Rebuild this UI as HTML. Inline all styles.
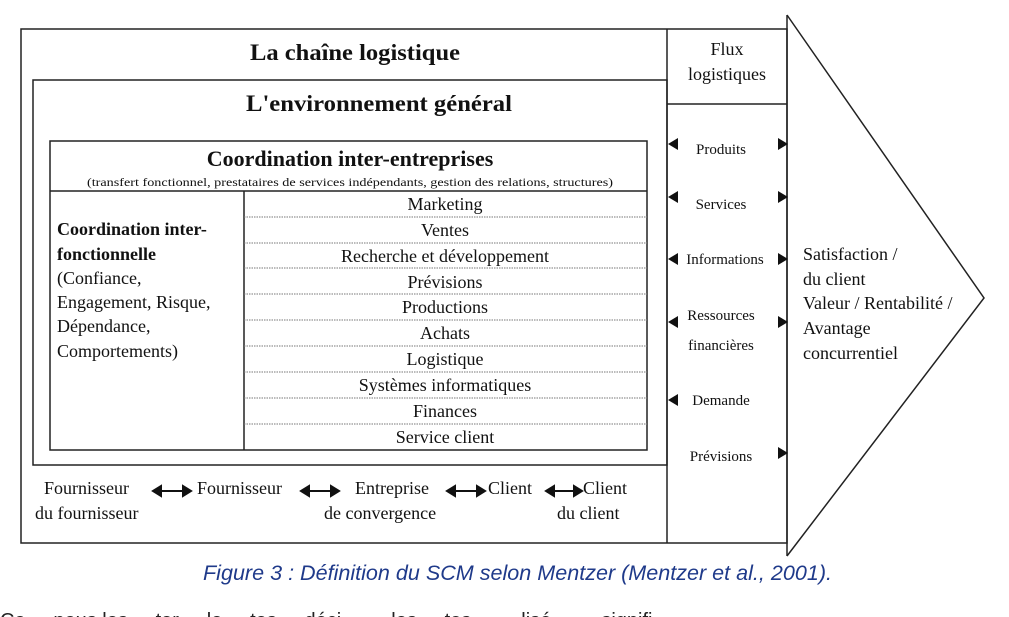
<!DOCTYPE html>
<html><head><meta charset="utf-8"><style>
html,body{margin:0;padding:0;background:#fff;}
svg{display:block;}
text{font-family:"Liberation Serif",serif;fill:#111;}
</style></head><body>
<svg width="1009" height="617" viewBox="0 0 1009 617" xmlns="http://www.w3.org/2000/svg">
<g stroke="#222" fill="none" stroke-width="1.5">
<rect x="21" y="29" width="766" height="514"/>
<rect x="33" y="80" width="634" height="385"/>
<line x1="667" y1="29" x2="667" y2="543"/>
<line x1="667" y1="104" x2="787" y2="104"/>
<line x1="787" y1="15" x2="787" y2="556"/>
<polyline points="787,15 984,298 787,556"/>
<rect x="50" y="141" width="597" height="309"/>
<line x1="50" y1="191" x2="647" y2="191"/>
<line x1="244" y1="191" x2="244" y2="450"/>
</g>
<g stroke="#777" stroke-width="1" stroke-dasharray="1.5,1">
<line x1="244" y1="217" x2="647" y2="217"/>
<line x1="244" y1="243" x2="647" y2="243"/>
<line x1="244" y1="268" x2="647" y2="268"/>
<line x1="244" y1="294" x2="647" y2="294"/>
<line x1="244" y1="320" x2="647" y2="320"/>
<line x1="244" y1="346" x2="647" y2="346"/>
<line x1="244" y1="372" x2="647" y2="372"/>
<line x1="244" y1="398" x2="647" y2="398"/>
<line x1="244" y1="424" x2="647" y2="424"/>
</g>
<text x="250" y="60" font-size="23" font-weight="bold" textLength="210" lengthAdjust="spacingAndGlyphs">La chaîne logistique</text>
<text x="246" y="111" font-size="23" font-weight="bold" textLength="266" lengthAdjust="spacingAndGlyphs">L'environnement général</text>
<text x="350" y="166" font-size="22" font-weight="bold" text-anchor="middle">Coordination inter-entreprises</text>
<text x="87" y="186" font-size="12" textLength="526" lengthAdjust="spacingAndGlyphs">(transfert fonctionnel, prestataires de services indépendants, gestion des relations, structures)</text>
<g font-size="18" text-anchor="middle">
<text x="445" y="210">Marketing</text>
<text x="445" y="236">Ventes</text>
<text x="445" y="262">Recherche et développement</text>
<text x="445" y="288">Prévisions</text>
<text x="445" y="313">Productions</text>
<text x="445" y="339">Achats</text>
<text x="445" y="365">Logistique</text>
<text x="445" y="391">Systèmes informatiques</text>
<text x="445" y="417">Finances</text>
<text x="445" y="443">Service client</text>
</g>
<g font-size="18">
<text x="57" y="235" font-weight="bold">Coordination inter-</text>
<text x="57" y="260" font-weight="bold">fonctionnelle</text>
<text x="57" y="284">(Confiance,</text>
<text x="57" y="308">Engagement, Risque,</text>
<text x="57" y="332">Dépendance,</text>
<text x="57" y="357">Comportements)</text>
</g>
<text x="727" y="55" font-size="18" text-anchor="middle">Flux</text>
<text x="727" y="80" font-size="18" text-anchor="middle">logistiques</text>
<g font-size="15" text-anchor="middle">
<text x="721" y="154">Produits</text>
<text x="721" y="209">Services</text>
<text x="725" y="264">Informations</text>
<text x="721" y="320">Ressources</text>
<text x="721" y="350">financières</text>
<text x="721" y="405">Demande</text>
<text x="721" y="461">Prévisions</text>
</g>
<g fill="#111">
<polygon points="668,144 678,138 678,150"/><polygon points="788,144 778,138 778,150"/>
<polygon points="668,197 678,191 678,203"/><polygon points="788,197 778,191 778,203"/>
<polygon points="668,259 678,253 678,265"/><polygon points="788,259 778,253 778,265"/>
<polygon points="668,322 678,316 678,328"/><polygon points="788,322 778,316 778,328"/>
<polygon points="668,400 678,394 678,406"/>
<polygon points="788,453 778,447 778,459"/>
</g>
<g font-size="18">
<text x="803" y="260">Satisfaction /</text>
<text x="803" y="285">du client</text>
<text x="803" y="309">Valeur / Rentabilité /</text>
<text x="803" y="334">Avantage</text>
<text x="803" y="359">concurrentiel</text>
</g>
<g font-size="18">
<text x="44" y="494">Fournisseur</text>
<text x="35" y="519">du fournisseur</text>
<text x="197" y="494">Fournisseur</text>
<text x="355" y="494">Entreprise</text>
<text x="324" y="519">de convergence</text>
<text x="488" y="494">Client</text>
<text x="583" y="494">Client</text>
<text x="557" y="519">du client</text>
</g>
<g fill="#111" stroke="#111" stroke-width="2">
<line x1="160" y1="491" x2="184" y2="491"/><polygon points="153,491 161,486 161,496"/><polygon points="191,491 183,486 183,496"/>
<line x1="308" y1="491" x2="332" y2="491"/><polygon points="301,491 309,486 309,496"/><polygon points="339,491 331,486 331,496"/>
<line x1="454" y1="491" x2="478" y2="491"/><polygon points="447,491 455,486 455,496"/><polygon points="485,491 477,486 477,496"/>
<line x1="553" y1="491" x2="575" y2="491"/><polygon points="546,491 554,486 554,496"/><polygon points="582,491 574,486 574,496"/>
</g>
<text x="203" y="580" font-size="21" font-style="italic" textLength="629" lengthAdjust="spacingAndGlyphs" style="font-family:'Liberation Sans',sans-serif;fill:#1f3a8a">Figure 3 : Définition du SCM selon Mentzer (Mentzer et al., 2001).</text>
<text x="0" y="627" font-size="20" style="font-family:'Liberation Sans',sans-serif;fill:#222">Ce   ...   nous   les   ...   ter   ...   le   ...   tes   ...   déci   ...   ...   les   ...   tos   ...   ...   lisé   ...   ...   signifi</text>
</svg>
</body></html>
